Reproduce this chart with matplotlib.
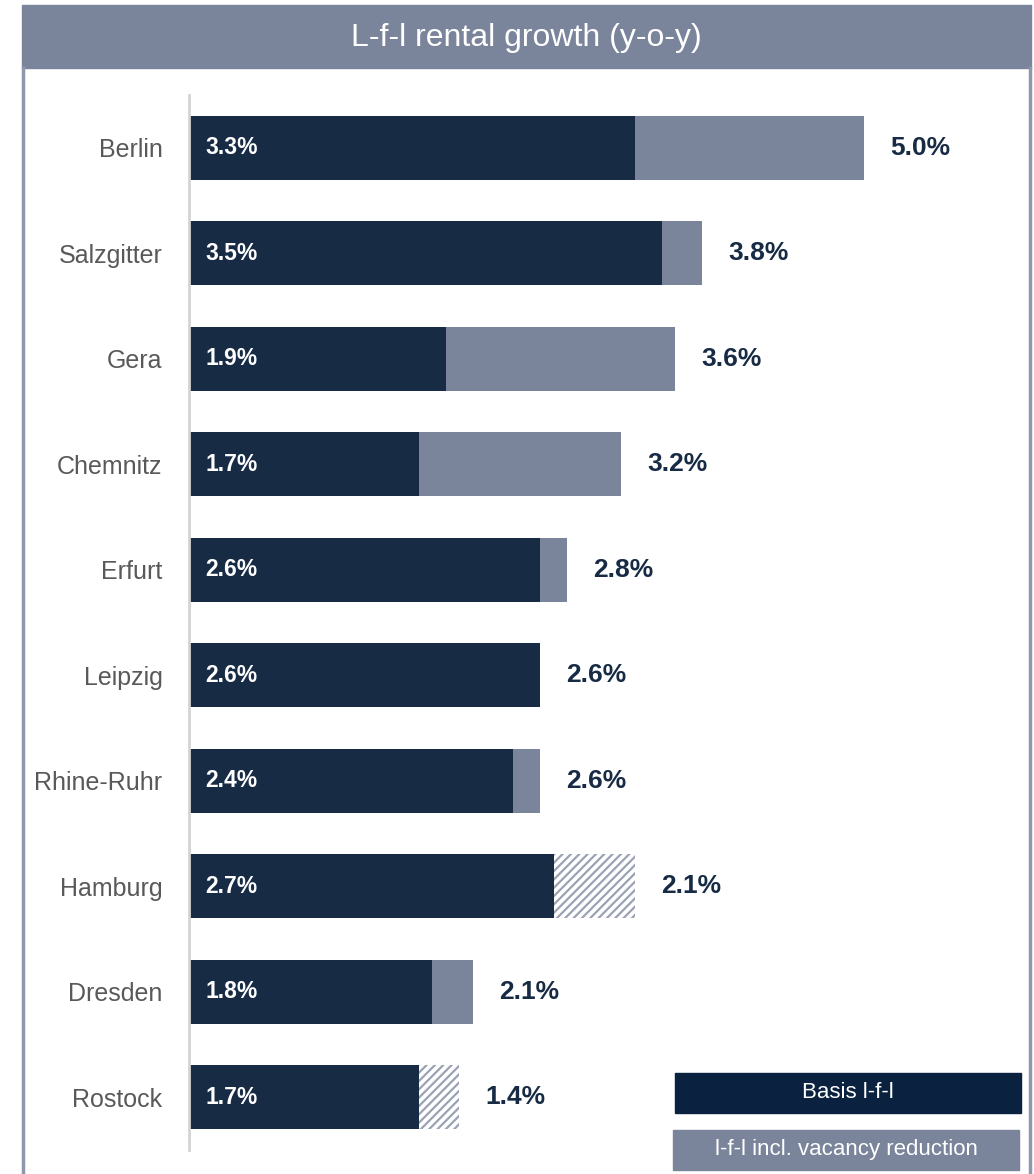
import matplotlib.pyplot as plt
from matplotlib.patches import Rectangle
from matplotlib.lines import Line2D

# data
cities = ["Berlin", "Salzgitter", "Gera", "Chemnitz", "Erfurt",
          "Leipzig", "Rhine-Ruhr", "Hamburg", "Dresden", "Rostock"]
basis = [3.3, 3.5, 1.9, 1.7, 2.6, 2.6, 2.4, 2.7, 1.8, 1.7]
total = [5.0, 3.8, 3.6, 3.2, 2.8, 2.6, 2.6, 2.1, 2.1, 1.4]

NAVY = "#172b45"
NAVY_LEG = "#0a2240"
GREY = "#7a849b"
FRAME = "#8e97ab"
FONT = ["Liberation Sans", "DejaVu Sans"]
plt.rcParams["font.family"] = FONT
plt.rcParams["hatch.linewidth"] = 1.6

W, H = 1034, 1174
fig = plt.figure(figsize=(W / 100, H / 100), dpi=100)

def fx(px):
    return px / W

def fy(py):
    return 1 - py / H

# frame + title banner
fig.patches.append(Rectangle((fx(22), fy(68)), fx(1031) - fx(22), fy(5) - fy(68),
                             transform=fig.transFigure, color=GREY, zorder=0))
fig.lines.append(Line2D([fx(23), fx(23)], [fy(68), 0], transform=fig.transFigure,
                        color=FRAME, lw=2.5))
fig.lines.append(Line2D([fx(1030), fx(1030)], [fy(68), 0], transform=fig.transFigure,
                        color=FRAME, lw=2.5))
fig.text(fx(526), fy(38), "L-f-l rental growth (y-o-y)", ha="center", va="center",
         color="white", fontsize=23)

ax = fig.add_axes([fx(189), fy(1150), fx(999) - fx(189), fy(95) - fy(1150)])
y = list(range(len(cities)))
ext = [abs(t - b) for t, b in zip(total, basis)]
ax.barh(y, basis, height=0.607, color=NAVY, zorder=2)
for i in y:
    if total[i] >= basis[i]:
        ax.barh(i, ext[i], left=basis[i], height=0.607, color=GREY, zorder=2)
    else:
        ax.barh(i, ext[i], left=basis[i], height=0.607, color="white",
                edgecolor="#9aa2b3", hatch="////", lw=0, zorder=2)
    ax.text(0.12, i, f"{basis[i]:.1f}%", va="center", ha="left", color="white",
            fontsize=16.5, fontweight="bold", zorder=3)
    end = basis[i] + ext[i]
    ax.annotate(f"{total[i]:.1f}%", (end, i), xytext=(19, 0), textcoords="offset points",
                va="center", ha="left", color=NAVY, fontsize=19, fontweight="bold")

ax.set_xlim(0, 6)
ax.set_ylim(len(cities) - 0.5, -0.5)
ax.set_yticks(y)
ax.set_yticklabels(cities, fontsize=18, color="#595959")
ax.tick_params(axis="y", length=0, pad=19)
ax.set_xticks([])
for s in ["top", "right", "bottom"]:
    ax.spines[s].set_visible(False)
ax.spines["left"].set_color("#d4d4d4")
ax.spines["left"].set_linewidth(2)

# legend boxes
fig.patches.append(Rectangle((fx(675), fy(1113)), fx(1021) - fx(675), fy(1073) - fy(1113),
                             transform=fig.transFigure, color=NAVY_LEG))
fig.text(fx(848), fy(1093), "Basis l-f-l", ha="center", va="center", color="white",
         fontsize=16)
fig.patches.append(Rectangle((fx(673), fy(1170)), fx(1019) - fx(673), fy(1130) - fy(1170),
                             transform=fig.transFigure, color=GREY))
fig.text(fx(846), fy(1150), "l-f-l incl. vacancy reduction", ha="center", va="center",
         color="white", fontsize=16)

fig.savefig("out.png", dpi=100)
